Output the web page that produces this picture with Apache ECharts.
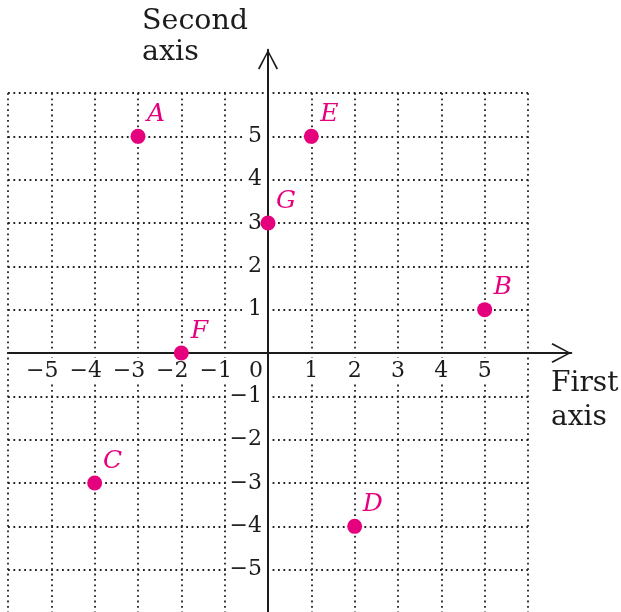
<!DOCTYPE html>
<html>

<head>
    <meta charset="UTF-8">
    <title>echarts-coordinate plane</title>
    <script type="text/javascript" src="https://cdn.jsdelivr.net/npm/echarts@6.0.0/dist/echarts.min.js"></script>
    <style>
    body,
    html {
        margin: 0;
        padding: 0;
        width: 621px;
        height: 612px;
        background: #fff;
    }

    #plane {
        width: 621px;
        height: 612px;
    }
    </style>
</head>

<body>
    <div id="plane"></div>
    <script>
    // points
    var pointNames = ['A', 'B', 'C', 'D', 'E', 'F', 'G'];
    var pointX = [-3, 5, -4, 2, 1, -2, 0];
    var pointY = [5, 1, -3, -4, 5, 0, 3];

    // axis ranges
    var gridMin = -6;
    var gridMax = 6;
    var arrowMax = 7;

    var serif = 'DejaVu Serif';
    var ink = '#1c1c1c';
    var pink = '#e5007d';
    var unit = 520 / (gridMax - gridMin);
    // distance from the grid edge in to the zero line
    var toZero = unit * (0 - gridMin);

    function buildData() {
        var data = [];
        for (var i = 0; i < pointNames.length; i++) {
            data.push({ name: pointNames[i], value: [pointX[i], pointY[i]] });
        }
        return data;
    }

    //x labels: the digit sits under the tick, the minus hangs left; 0 goes left of the origin
    function xLabel(v) {
        if (v >= gridMax || v <= gridMin) return '';
        if (v === 0) return '{z|0}';
        if (v < 0) return '{n|\u2212' + (-v) + '}';
        return '{p|' + v + '}';
    }

    function yLabel(v) {
        if (v >= gridMax || v <= gridMin || v === 0) return '';
        if (v < 0) return '\u2212' + (-v);
        return '' + v;
    }

    var labelFont = { fontFamily: serif, fontSize: 22, color: ink, lineHeight: 22, backgroundColor: '#fff' };

    var chevron = 'path://M10,0 L20,18.6 L18.5,19.6 L10,3 L1.5,19.6 L0,18.6 Z';
    var dotted = { color: '#222', width: 1.8, type: [1.8, 3.6] };

    var echart = echarts.init(document.getElementById('plane'), null, { renderer: 'canvas' });
    var option = {
        animation: false,
        backgroundColor: '#fff',
        title: [{
            text: 'Second\naxis',
            left: 142,
            top: 6,
            padding: 0,
            textStyle: { fontFamily: serif, fontWeight: 'normal', fontSize: 28.5, lineHeight: 31, color: ink }
        }, {
            text: 'First\naxis',
            left: 551,
            top: 367,
            padding: 0,
            textStyle: { fontFamily: serif, fontWeight: 'normal', fontSize: 28, lineHeight: 34, color: ink }
        }],
        grid: [{
            left: 8,
            top: 93,
            width: unit * (gridMax - gridMin),
            height: unit * (gridMax - gridMin),
            containLabel: false,
            outerBoundsMode: 'none'
        }, {
            left: 8,
            top: 93 - unit * (arrowMax - gridMax),
            width: unit * (arrowMax - gridMin),
            height: unit * (arrowMax - gridMin),
            containLabel: false,
            outerBoundsMode: 'none'
        }],
        xAxis: [{
            gridIndex: 0,
            type: 'value',
            min: gridMin,
            max: gridMax,
            interval: 1,
            axisLine: { show: false },
            axisTick: { show: false },
            axisLabel: { show: false },
            splitLine: { show: true, showMinLine: true, showMaxLine: true, lineStyle: dotted }
        }, {
            gridIndex: 1,
            type: 'value',
            position: 'bottom',
            offset: -toZero,
            min: gridMin,
            max: arrowMax,
            interval: 1,
            axisLine: {
                show: true,
                onZero: false,
                symbol: ['none', chevron],
                symbolSize: [20, 20],
                symbolOffset: [0, -10],
                lineStyle: { color: ink, width: 2 }
            },
            axisTick: { show: false },
            splitLine: { show: false },
            axisLabel: {
                show: true,
                margin: 7,
                formatter: xLabel,
                fontFamily: serif,
                fontSize: 22,
                color: ink,
                rich: {
                    p: Object.assign({ padding: [2, 0, 2, 0] }, labelFont),
                    n: Object.assign({ padding: [2, 18, 2, 0] }, labelFont),
                    z: Object.assign({}, labelFont, { padding: [2, 24, 2, 0], backgroundColor: 'transparent' })
                }
            }
        }],
        yAxis: [{
            gridIndex: 0,
            type: 'value',
            min: gridMin,
            max: gridMax,
            interval: 1,
            axisLine: { show: false },
            axisTick: { show: false },
            axisLabel: { show: false },
            splitLine: { show: true, showMinLine: true, showMaxLine: true, lineStyle: dotted }
        }, {
            gridIndex: 1,
            type: 'value',
            position: 'left',
            offset: -toZero,
            min: gridMin,
            max: arrowMax,
            interval: 1,
            axisLine: {
                show: true,
                onZero: false,
                symbol: ['none', chevron],
                symbolSize: [20, 20],
                symbolOffset: [0, -10],
                lineStyle: { color: ink, width: 2 }
            },
            axisTick: { show: false },
            splitLine: { show: false },
            axisLabel: {
                show: true,
                margin: 1,
                formatter: yLabel,
                fontFamily: serif,
                fontSize: 22,
                color: ink,
                backgroundColor: '#fff',
                padding: [0, 5, 0, 3]
            }
        }],
        series: [{
            type: 'scatter',
            xAxisIndex: 0,
            yAxisIndex: 0,
            symbol: 'circle',
            symbolSize: 15,
            z: 5,
            itemStyle: { color: pink, opacity: 1 },
            label: {
                show: true,
                position: 'inside',
                offset: [18, -22],
                formatter: '{b}',
                fontFamily: serif,
                fontStyle: 'italic',
                fontSize: 25,
                color: pink
            },
            emphasis: { disabled: true },
            data: buildData()
        }]
    };

    echart.setOption(option);
    </script>
</body>

</html>
